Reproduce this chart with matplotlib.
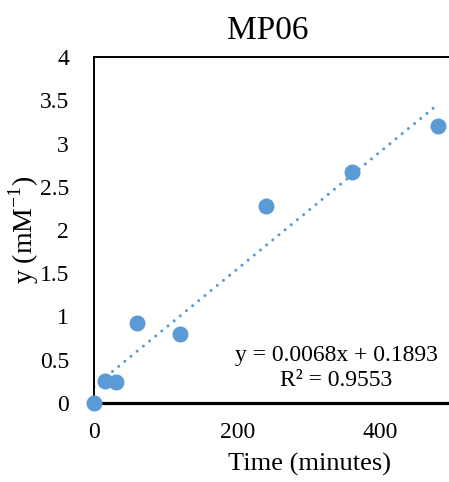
import matplotlib
matplotlib.use("Agg")
import matplotlib.pyplot as plt

plt.rcParams["font.family"] = ["Liberation Serif", "DejaVu Serif"]

time_min = [0, 15, 30, 60, 120, 240, 360, 480]
y_inv_mm = [0.0, 0.25, 0.24, 0.92, 0.80, 2.28, 2.67, 3.20]
slope = 0.0068
intercept = 0.1893
r_squared = 0.9553
trend_x = [0, 475]
x_ticks = [0, 200, 400]
y_ticks = [0, 0.5, 1, 1.5, 2, 2.5, 3, 3.5, 4]
y_tick_labels = ["0", "0.5", "1", "1.5", "2", "2.5", "3", "3.5", "4"]

BLUE = "#5B9BD5"

fig = plt.figure(figsize=(4.49, 4.82), dpi=100)
# the plot area runs past the right edge of the picture, as in the source
ax = fig.add_axes([94 / 449, 79 / 482, 430 / 449, 346 / 482])

ax.plot(trend_x, [slope * x + intercept for x in trend_x], color=BLUE,
        lw=2.2, ls=(0, (0.01, 2.6)), dash_capstyle="round", zorder=2)
ax.plot(time_min, y_inv_mm, "o", color=BLUE, ms=10.5, zorder=3, clip_on=False)

ax.set_xlim(0, 600)
ax.set_ylim(0, 4)
ax.set_xticks(x_ticks)
ax.set_yticks(y_ticks)
ax.set_yticklabels(y_tick_labels)
ax.tick_params(length=0, labelsize=17)
ax.tick_params(axis="y", pad=18)
ax.tick_params(axis="x", pad=14)

for side in ["left", "top", "right"]:
    ax.spines[side].set_linewidth(1.4)
ax.spines["bottom"].set_linewidth(2.3)

ax.set_xlabel("Time (minutes)", fontsize=19, labelpad=7)
ax.set_ylabel("y (mM$^{\\mathregular{-1}}$)", fontsize=20, labelpad=-1)

fig.text(268 / 449, 1 - 31 / 482, "MP06", fontsize=24, ha="center", va="center")

ax.text(338, (403 - 356) / 86.5, f"y = {slope}x + {intercept}",
        fontsize=17, ha="center", va="center")
ax.text(338, (403 - 381) / 86.5, f"R² = {r_squared}",
        fontsize=17, ha="center", va="center")

fig.savefig("out.png", dpi=100)
